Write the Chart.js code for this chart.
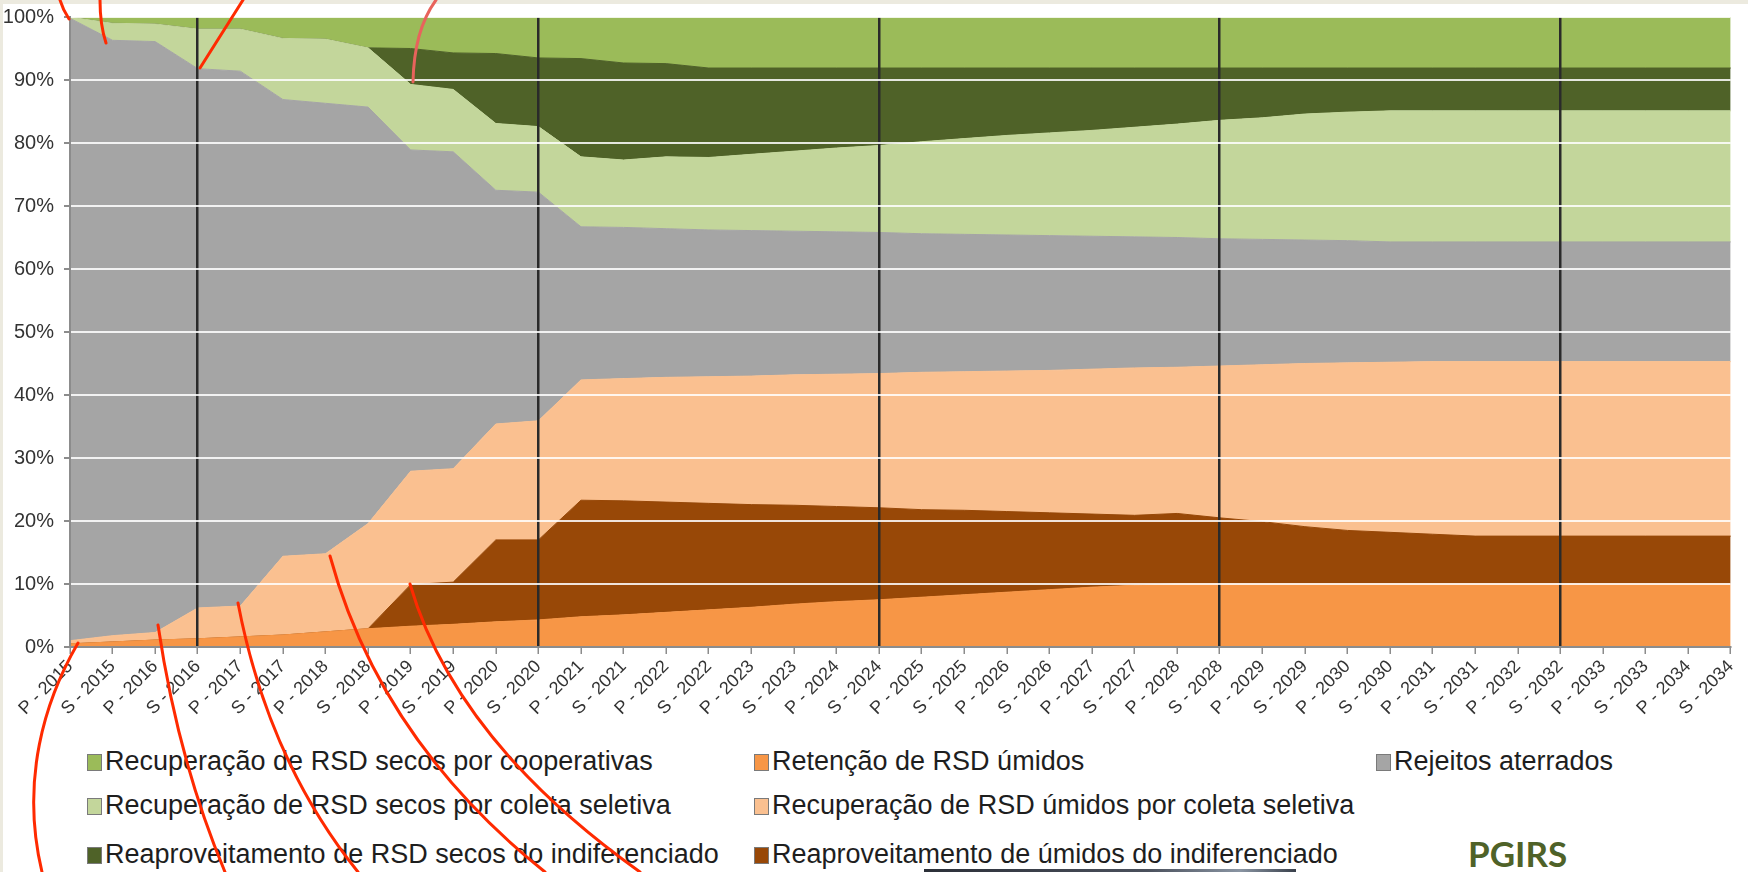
<!DOCTYPE html>
<html>
<head>
<meta charset="utf-8">
<script src="https://cdn.jsdelivr.net/npm/chart.js@4.4.0/dist/chart.umd.min.js"></script>
<style>
  html, body { margin: 0; padding: 0; }
  body { width: 1748px; height: 872px; position: relative; overflow: hidden; background: #fff;
         font-family: "Liberation Sans", Arial, sans-serif; }
  #edgeTop { position: absolute; left: 0; top: 0; width: 1748px; height: 4px; background: #ECEADF; }
  #edgeLeft { position: absolute; left: 0; top: 0; width: 3px; height: 872px; background: #ECEADF; }
  #wrap { position: absolute; left: 0; top: 0; width: 1748px; height: 732px; }
  .leg { position: absolute; font-size: 27px; color: #1e1e1e; white-space: nowrap; line-height: 30px; }
  .leg i { display: inline-block; width: 13px; height: 15px; border: 1px solid #7a7a7a; margin-right: 3px; vertical-align: -1px; }
  #pgirs { position: absolute; left: 1468px; top: 833px; font-family: Lato, "Open Sans", sans-serif; font-weight: 700;
           font-size: 35px; color: #4F6228; line-height: 40px; }
  #photo { position: absolute; left: 924px; top: 869px; width: 372px; height: 3px;
           background: linear-gradient(90deg, #2b2f38, #4a505c 60%, #8a95a3 85%, #39404b); }
  #marks { position: absolute; left: 0; top: 0; pointer-events: none; }
</style>
</head>
<body>
<div id="edgeTop"></div>
<div id="edgeLeft"></div>
<div id="wrap"><canvas id="chart" width="1748" height="732"></canvas></div>
<div id="legend"></div>
<div id="pgirs">PGIRS</div>
<div id="photo"></div>
<svg id="marks" width="1748" height="872">
  <g fill="none" stroke="#ff2a00" stroke-width="3" stroke-linecap="round">
    <path d="M60,0 Q63,10 69,19"/>
    <path d="M100,0 Q100,25 106,43"/>
    <path d="M243,0 L200,68"/>
    <path d="M436,0 Q414,30 413,82" stroke="#e8635c"/>
    <path d="M78,643 C45,700 20,780 42,872"/>
    <path d="M158,625 Q178,760 225,872"/>
    <path d="M238,603 Q268,760 358,872"/>
    <path d="M330,556 Q380,740 545,872"/>
    <path d="M410,584 Q455,740 640,872"/>
  </g>
</svg>
<script>
// categorias: primeiro (P) e segundo (S) semestre de cada ano
const cats = [
  'P - 2015', 'S - 2015', 'P - 2016', 'S - 2016', 'P - 2017', 'S - 2017', 'P - 2018', 'S - 2018',
  'P - 2019', 'S - 2019', 'P - 2020', 'S - 2020', 'P - 2021', 'S - 2021', 'P - 2022', 'S - 2022',
  'P - 2023', 'S - 2023', 'P - 2024', 'S - 2024', 'P - 2025', 'S - 2025', 'P - 2026', 'S - 2026',
  'P - 2027', 'S - 2027', 'P - 2028', 'S - 2028', 'P - 2029', 'S - 2029', 'P - 2030', 'S - 2030',
  'P - 2031', 'S - 2031', 'P - 2032', 'S - 2032', 'P - 2033', 'S - 2033', 'P - 2034', 'S - 2034'
];

// linhas verticais escuras (fim de cada quadriênio)
const marcos = ['S - 2016', 'S - 2020', 'S - 2024', 'S - 2028', 'S - 2032'];

const yTicks = [0, 10, 20, 30, 40, 50, 60, 70, 80, 90, 100];

// % de cada destino (de baixo para cima na pilha)
const retencao = [0.5, 0.8, 1.1, 1.3, 1.6, 1.9, 2.4, 2.9, 3.3, 3.6, 4.0, 4.3, 4.8, 5.1, 5.5, 5.9, 6.3, 6.8, 7.2, 7.5,
  7.9, 8.3, 8.7, 9.1, 9.5, 9.8, 10.0, 10.0, 10.0, 10.0, 10.0, 10.0, 10.0, 10.0, 10.0, 10.0, 10.0, 10.0, 10.0, 10.0];
const umidosIndif = [0, 0, 0, 0, 0, 0, 0, 0, 6.6, 6.7, 13.0, 12.7, 18.5, 18.1, 17.5, 16.9, 16.3, 15.7, 15.1, 14.6,
  13.9, 13.4, 12.8, 12.2, 11.6, 11.1, 11.2, 10.5, 9.9, 9.1, 8.5, 8.2, 7.9, 7.6, 7.6, 7.6, 7.6, 7.6, 7.6, 7.6];
const umidosColeta = [0.5, 1.0, 1.2, 4.9, 4.9, 12.5, 12.4, 16.7, 18.0, 18.0, 18.4, 18.9, 19.1, 19.4, 19.8, 20.1, 20.4, 20.7, 21.0, 21.3,
  21.8, 22.0, 22.3, 22.6, 23.0, 23.4, 23.2, 24.1, 24.9, 25.9, 26.6, 27.0, 27.4, 27.7, 27.7, 27.7, 27.7, 27.7, 27.7, 27.7];
const rejeitos = [98.8, 94.5, 93.8, 85.6, 84.9, 72.5, 71.5, 66.1, 51.0, 50.3, 37.1, 36.3, 24.3, 24.0, 23.6, 23.3, 23.1, 22.8, 22.6, 22.4,
  22.0, 21.8, 21.6, 21.4, 21.1, 20.8, 20.6, 20.2, 19.9, 19.6, 19.4, 19.1, 19.0, 19.0, 19.0, 19.0, 19.0, 19.0, 19.0, 19.0];
const secosColeta = [0.2, 2.7, 2.8, 6.3, 6.7, 9.7, 10.2, 9.4, 10.4, 9.9, 10.6, 10.4, 11.1, 10.7, 11.4, 11.5, 12.1, 12.7, 13.3, 13.8,
  14.6, 15.2, 15.8, 16.3, 16.8, 17.4, 18.0, 18.8, 19.3, 20.0, 20.4, 20.8, 20.8, 20.8, 20.8, 20.8, 20.8, 20.8, 20.8, 20.8];
const secosIndif = [0, 0, 0, 0, 0, 0, 0, 0, 5.7, 5.8, 11.1, 10.9, 15.6, 15.4, 14.8, 14.2, 13.7, 13.2, 12.7, 12.3,
  11.7, 11.2, 10.7, 10.3, 9.9, 9.4, 8.9, 8.3, 7.9, 7.3, 7.0, 6.8, 6.8, 6.8, 6.8, 6.8, 6.8, 6.8, 6.8, 6.8];
const cooperativas = [0, 1.0, 1.1, 1.9, 1.9, 3.4, 3.5, 4.9, 5.0, 5.7, 5.8, 6.5, 6.6, 7.3, 7.4, 8.1, 8.1, 8.1, 8.1, 8.1,
  8.1, 8.1, 8.1, 8.1, 8.1, 8.1, 8.1, 8.1, 8.1, 8.1, 8.1, 8.1, 8.1, 8.1, 8.1, 8.1, 8.1, 8.1, 8.1, 8.1];

const series = [
  { name: 'Retenção de RSD úmidos', values: retencao, color: '#F79646' },
  { name: 'Reaproveitamento de úmidos do indiferenciado', values: umidosIndif, color: '#984807' },
  { name: 'Recuperação de RSD úmidos por coleta seletiva', values: umidosColeta, color: '#FAC090' },
  { name: 'Rejeitos aterrados', values: rejeitos, color: '#A5A5A5' },
  { name: 'Recuperação de RSD secos por coleta seletiva', values: secosColeta, color: '#C3D69B' },
  { name: 'Reaproveitamento de RSD secos do indiferenciado', values: secosIndif, color: '#4F6228' },
  { name: 'Recuperação de RSD secos por cooperativas', values: cooperativas, color: '#9BBB59' }
];

const ctx = document.getElementById('chart').getContext('2d');
new Chart(ctx, {
  type: 'line',
  data: {
    labels: cats,
    datasets: series.map((s, i) => ({
      label: s.name,
      data: s.values,
      backgroundColor: s.color,
      borderColor: s.color,
      borderWidth: 1,
      pointRadius: 0,
      tension: 0,
      fill: i === 0 ? 'origin' : '-1'
    }))
  },
  options: {
    responsive: false,
    animation: false,
    layout: { padding: { left: 4, right: 12, top: 0, bottom: 0 } },
    plugins: { legend: { display: false }, tooltip: { enabled: false } },
    scales: {
      x: {
        z: 1,
        offset: false,
        grid: {
          z: 1,
          color: (c) => marcos.includes(cats[c.index]) ? '#2a2a2a' : 'rgba(0,0,0,0)',
          lineWidth: 2.5,
          tickColor: '#8c8c8c',
          tickLength: 7,
          tickWidth: 1.5
        },
        border: { color: '#8c8c8c', width: 2, z: 2 },
        ticks: {
          autoSkip: false,
          minRotation: 45,
          maxRotation: 45,
          color: '#333',
          padding: 2,
          font: { family: '"Liberation Sans", Arial, sans-serif', size: 18 }
        },
        afterFit: (s) => { s.height = 85; }
      },
      y: {
        z: 1,
        stacked: true,
        min: 0,
        max: 100,
        afterBuildTicks: (s) => { s.ticks = yTicks.map(v => ({ value: v })); },
        ticks: {
          callback: (v) => v + '%',
          color: '#333',
          padding: 10,
          font: { family: '"Liberation Sans", Arial, sans-serif', size: 20, lineHeight: 0.7 }
        },
        grid: {
          z: 1,
          color: 'rgba(255,255,255,0.85)',
          lineWidth: 2,
          tickColor: '#8c8c8c',
          tickLength: 6
        },
        border: { color: '#8c8c8c', width: 2, z: 2 },
        afterFit: (s) => { s.width = 66; }
      }
    }
  }
});

// legenda em três colunas, como no original
const legendCols = [87, 754, 1376];
const legendRows = [746, 790, 839];
const legendOrder = [
  ['Recuperação de RSD secos por cooperativas', 0, 0],
  ['Recuperação de RSD secos por coleta seletiva', 0, 1],
  ['Reaproveitamento de RSD secos do indiferenciado', 0, 2],
  ['Retenção de RSD úmidos', 1, 0],
  ['Recuperação de RSD úmidos por coleta seletiva', 1, 1],
  ['Reaproveitamento de úmidos do indiferenciado', 1, 2],
  ['Rejeitos aterrados', 2, 0]
];
const legend = document.getElementById('legend');
legendOrder.forEach(([name, col, row]) => {
  const s = series.find(x => x.name === name);
  const el = document.createElement('div');
  el.className = 'leg';
  el.style.left = legendCols[col] + 'px';
  el.style.top = legendRows[row] + 'px';
  el.innerHTML = '<i style="background:' + s.color + '"></i>' + s.name;
  legend.appendChild(el);
});
</script>
</body>
</html>
